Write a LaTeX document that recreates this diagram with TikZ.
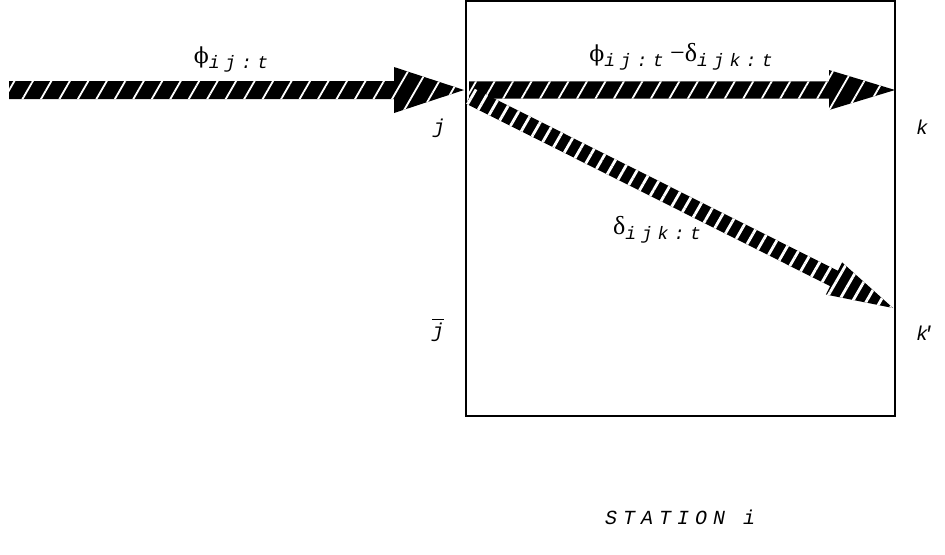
\documentclass[tikz,border=0pt]{standalone}
\usepackage{fontspec}
\setmonofont[LetterSpace=30]{Liberation Mono}
\newfontfamily\greekfont{Liberation Serif}
\newfontfamily\phifont{DejaVu Serif}
\usetikzlibrary{calc,patterns.meta,positioning}

% fat hatched arrow: #1 style, #2 from, #3 to, #4 half shaft, #5 half head, #6 head length
\newcommand{\fatarrow}[6]{%
  \coordinate (#2#3base) at ($(#3)!#6!(#2)$);
  \path[#1] ($(#2)!#4!90:(#3)$) -- ($(#2#3base)!#4!90:(#3)$)
    -- ($(#2#3base)!#5!90:(#3)$) -- (#3)
    -- ($(#2#3base)!#5!-90:(#3)$) -- ($(#2#3base)!#4!-90:(#3)$)
    -- ($(#2)!#4!-90:(#3)$) -- cycle;}
\newcommand{\sub}[1]{\raisebox{-2.5pt}{\fontsize{9}{9}\ttfamily\itshape #1}}
\newcommand{\flowphi}{{\phifont\fontsize{11}{11}\selectfont ϕ}}

\tikzset{
  flow/.style={preaction={fill=black},
    pattern={Lines[angle=60,distance=8pt,line width=0.9pt]}, pattern color=white},
  split/.style={preaction={fill=black},
    pattern={Lines[angle=60,distance=6pt,line width=1.4pt]}, pattern color=white},
  lbl/.style={font=\fontsize{10}{10}\ttfamily\itshape, inner sep=0pt},
  qty/.style={font=\fontsize{13}{13}\greekfont, inner sep=0pt},
}

\begin{document}
\begin{tikzpicture}[x=0.5pt,y=-0.5pt]
  \useasboundingbox (0,0) rectangle (945,554);

  % station box
  \node[draw, line width=0.8pt, inner sep=0pt, minimum width=214.5pt,
        minimum height=207.5pt] (station) at (680.5,208.5) {};

  % arrow end points
  \coordinate (src) at (9,90);
  \coordinate (j) at (464,90);
  \coordinate (jout) at (469,90);
  \coordinate (k) at (895,90);
  \coordinate (jdiag) at (470,96);
  \coordinate (kp) at (893,308);

  % flows
  \fatarrow{flow}{src}{j}{4.5pt}{11.5pt}{35pt}
  \fatarrow{flow}{jout}{k}{4.3pt}{10pt}{33pt}
  \fatarrow{split}{jdiag}{kp}{4.3pt}{9pt}{33pt}

  % labels
  \node[qty] (phi) at (231,59) {\flowphi\sub{ij:t}};
  \node[qty] (rest) at (681,57) {\flowphi\sub{ij:t} −δ\sub{ijk:t}};
  \node[qty] (delta) at (657,230) {δ\sub{ijk:t}};
  \node[lbl] (jlab) at (439,128) {j};
  \node[lbl] (jbar) at (438,330) {$\overline{\mbox{\ttfamily\itshape j}}$};
  \node[lbl] (klab) at (922,127) {k};
  \node[lbl] (kplab) at (925,333) {k\kern-3pt'};
  \node[lbl] (name) at (680,517) {STATION i};
\end{tikzpicture}
\end{document}
